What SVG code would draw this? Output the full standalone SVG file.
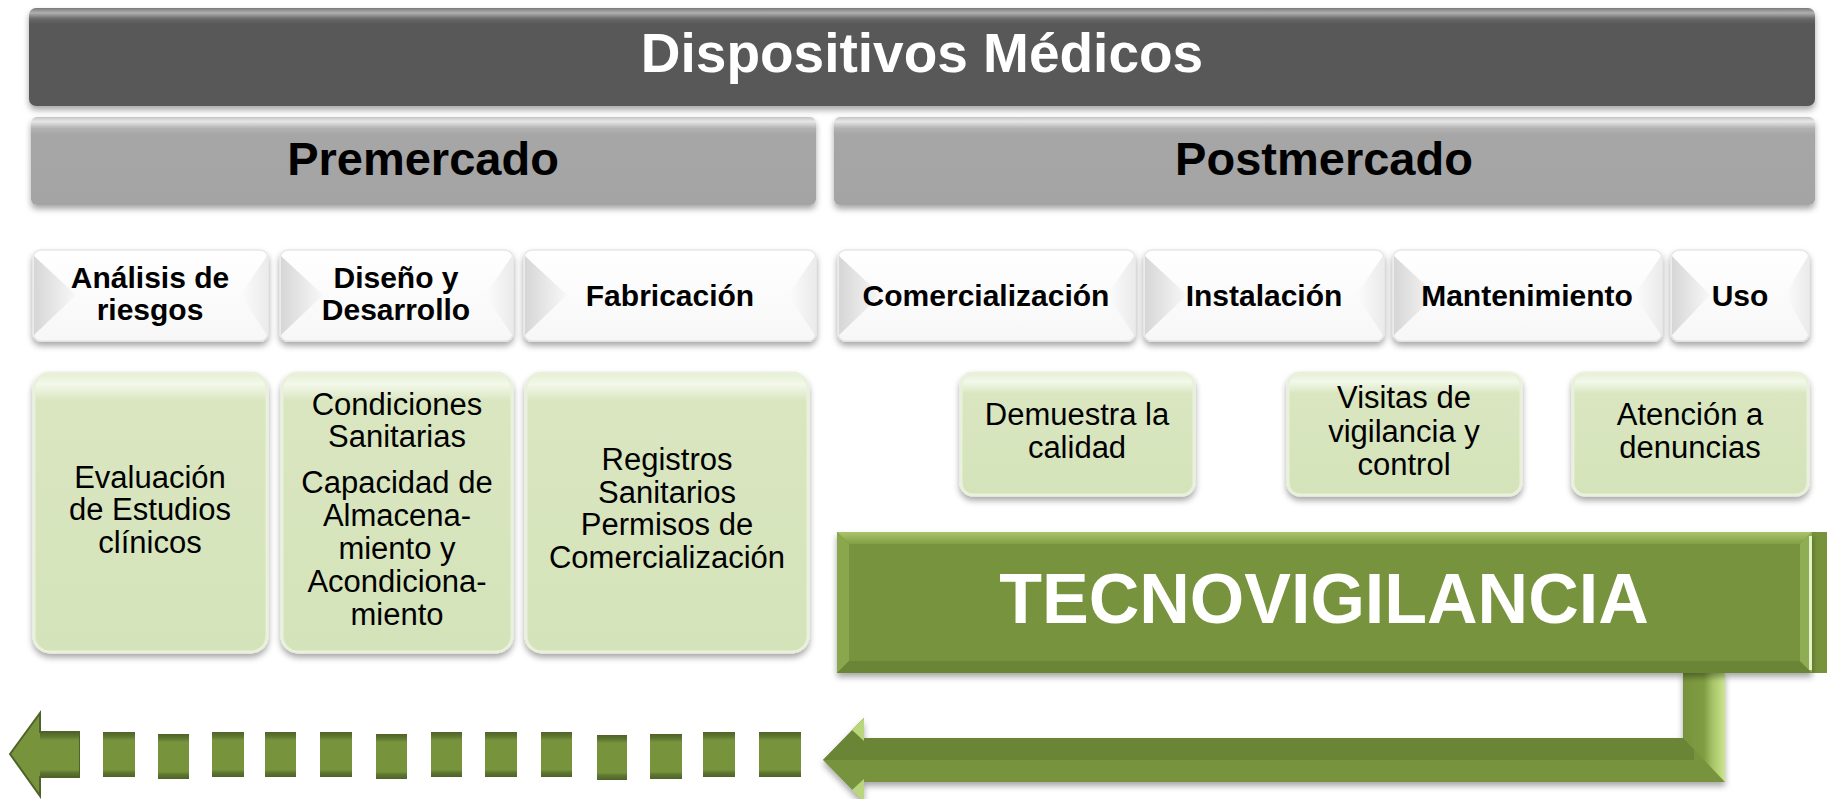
<svg xmlns="http://www.w3.org/2000/svg" width="1827" height="799" viewBox="0 0 1827 799">
<defs>
<filter id="sh" x="-5%" y="-10%" width="110%" height="130%"><feDropShadow dx="0" dy="4" stdDeviation="3" flood-color="#000" flood-opacity="0.35"/></filter>
<linearGradient id="gDark" x1="0" y1="0" x2="0" y2="1"><stop offset="0" stop-color="#7a7a7a"/><stop offset="0.05" stop-color="#b0b0b0"/><stop offset="0.11" stop-color="#6a6a6a"/><stop offset="0.16" stop-color="#595959"/><stop offset="1" stop-color="#585858"/></linearGradient>
<linearGradient id="gGray" x1="0" y1="0" x2="0" y2="1"><stop offset="0" stop-color="#c4c4c4"/><stop offset="0.05" stop-color="#e6e6e6"/><stop offset="0.13" stop-color="#b2b2b2"/><stop offset="0.2" stop-color="#a6a6a6"/><stop offset="1" stop-color="#a4a4a4"/></linearGradient>
<linearGradient id="gHdr" x1="0" y1="0" x2="0" y2="1"><stop offset="0" stop-color="#ffffff"/><stop offset="1" stop-color="#f7f7f7"/></linearGradient>
<linearGradient id="gShadeL" x1="0" y1="0" x2="1" y2="0"><stop offset="0" stop-color="#d6d6d6"/><stop offset="1" stop-color="#f8f8f8"/></linearGradient>
<linearGradient id="gShadeR" x1="1" y1="0" x2="0" y2="0"><stop offset="0" stop-color="#ebebeb"/><stop offset="1" stop-color="#fcfcfc"/></linearGradient>
<linearGradient id="gLG" x1="0" y1="0" x2="0" y2="1"><stop offset="0" stop-color="#e6efd4"/><stop offset="0.04" stop-color="#f3f8ea"/><stop offset="0.1" stop-color="#d9e6c0"/><stop offset="1" stop-color="#d5e3ba"/></linearGradient>
<linearGradient id="gLGs" x1="0" y1="0" x2="0" y2="1"><stop offset="0" stop-color="#e6efd4"/><stop offset="0.07" stop-color="#f3f8ea"/><stop offset="0.17" stop-color="#d9e6c0"/><stop offset="1" stop-color="#d5e3ba"/></linearGradient>
<linearGradient id="gBvTop" x1="0" y1="0" x2="0" y2="1"><stop offset="0" stop-color="#a9c46a"/><stop offset="1" stop-color="#83a046"/></linearGradient>
<linearGradient id="gDash" x1="0" y1="0" x2="0" y2="1"><stop offset="0" stop-color="#4f6228"/><stop offset="0.1" stop-color="#5e7731"/><stop offset="0.18" stop-color="#77933c"/><stop offset="0.84" stop-color="#77933c"/><stop offset="0.9" stop-color="#5e7731"/><stop offset="1" stop-color="#4f6228"/></linearGradient>
<linearGradient id="gVert" x1="0" y1="0" x2="1" y2="0"><stop offset="0" stop-color="#77933c"/><stop offset="0.5" stop-color="#7f9c42"/><stop offset="0.7" stop-color="#a6c366"/><stop offset="1" stop-color="#cbe68d"/></linearGradient>
<style>
.t{font-family:"Liberation Sans",Arial,sans-serif;text-anchor:middle}
.b{font-weight:bold}
.hdr{font-size:30px;font-weight:bold;fill:#000}
.body{font-size:31px;fill:#000}
.lg{fill:url(#gLG);stroke:#e9f1dc;stroke-width:3}
.lgs{fill:url(#gLGs);stroke:#e9f1dc;stroke-width:3}
.hb{fill:url(#gHdr);stroke:#e6e6e6;stroke-width:1.5}
.sl{fill:url(#gShadeL)}
.sr{fill:url(#gShadeR)}
.dash{fill:url(#gDash)}
</style>
</defs>
<rect width="1827" height="799" fill="#ffffff"/>

<g id="dispositivos">
<rect x="29" y="8" width="1786" height="98" rx="7" fill="url(#gDark)" filter="url(#sh)"/>
<text class="t b" x="922" y="72" font-size="55" fill="#ffffff">Dispositivos Médicos</text>
</g>

<g id="premercado">
<rect x="31" y="117" width="785" height="88" rx="6" fill="url(#gGray)" filter="url(#sh)"/>
<text class="t b" x="423" y="175" font-size="47" fill="#000">Premercado</text>
</g>
<g id="postmercado">
<rect x="834" y="117" width="981" height="88" rx="6" fill="url(#gGray)" filter="url(#sh)"/>
<text class="t b" x="1324" y="175" font-size="47" fill="#000">Postmercado</text>
</g>

<g id="analisis">
<rect class="hb" x="33" y="250" width="235" height="91" rx="8" filter="url(#sh)"/>
<polygon class="sl" points="34,256 76,295 34,335"/>
<polygon class="sr" points="267,256 240,295 267,335"/>
<text class="t hdr" x="150" y="288">Análisis de</text>
<text class="t hdr" x="150" y="320">riesgos</text>
</g>
<g id="diseno">
<rect class="hb" x="280" y="250" width="233" height="91" rx="8" filter="url(#sh)"/>
<polygon class="sl" points="281,256 323,295 281,335"/>
<polygon class="sr" points="512,256 485,295 512,335"/>
<text class="t hdr" x="396" y="288">Diseño y</text>
<text class="t hdr" x="396" y="320">Desarrollo</text>
</g>
<g id="fabricacion">
<rect class="hb" x="524" y="250" width="292" height="91" rx="8" filter="url(#sh)"/>
<polygon class="sl" points="525,256 567,295 525,335"/>
<polygon class="sr" points="815,256 788,295 815,335"/>
<text class="t hdr" x="670" y="306">Fabricación</text>
</g>
<g id="comercializacion">
<rect class="hb" x="838" y="250" width="297" height="91" rx="8" filter="url(#sh)"/>
<polygon class="sl" points="839,256 881,295 839,335"/>
<polygon class="sr" points="1134,256 1107,295 1134,335"/>
<text class="t hdr" x="986" y="306">Comercialización</text>
</g>
<g id="instalacion">
<rect class="hb" x="1144" y="250" width="240" height="91" rx="8" filter="url(#sh)"/>
<polygon class="sl" points="1145,256 1187,295 1145,335"/>
<polygon class="sr" points="1383,256 1356,295 1383,335"/>
<text class="t hdr" x="1264" y="306">Instalación</text>
</g>
<g id="mantenimiento">
<rect class="hb" x="1393" y="250" width="269" height="91" rx="8" filter="url(#sh)"/>
<polygon class="sl" points="1394,256 1436,295 1394,335"/>
<polygon class="sr" points="1661,256 1634,295 1661,335"/>
<text class="t hdr" x="1527" y="306">Mantenimiento</text>
</g>
<g id="uso">
<rect class="hb" x="1671" y="250" width="138" height="91" rx="8" filter="url(#sh)"/>
<polygon class="sl" points="1672,256 1710,295 1672,335"/>
<polygon class="sr" points="1808,256 1785,295 1808,335"/>
<text class="t hdr" x="1740" y="306">Uso</text>
</g>

<g id="evaluacion">
<rect class="lg" x="34" y="373" width="233" height="279" rx="16" filter="url(#sh)"/>
<text class="t body" x="150" y="488">Evaluación</text>
<text class="t body" x="150" y="520">de Estudios</text>
<text class="t body" x="150" y="553">clínicos</text>
</g>
<g id="condiciones">
<rect class="lg" x="282" y="373" width="230" height="279" rx="16" filter="url(#sh)"/>
<text class="t body" x="397" y="415">Condiciones</text>
<text class="t body" x="397" y="447">Sanitarias</text>
<text class="t body" x="397" y="493">Capacidad de</text>
<text class="t body" x="397" y="526">Almacena-</text>
<text class="t body" x="397" y="559">miento y</text>
<text class="t body" x="397" y="592">Acondiciona-</text>
<text class="t body" x="397" y="625">miento</text>
</g>
<g id="registros">
<rect class="lg" x="526" y="373" width="282" height="279" rx="16" filter="url(#sh)"/>
<text class="t body" x="667" y="470">Registros</text>
<text class="t body" x="667" y="503">Sanitarios</text>
<text class="t body" x="667" y="535">Permisos de</text>
<text class="t body" x="667" y="568">Comercialización</text>
</g>

<g id="demuestra">
<rect class="lgs" x="961" y="373" width="233" height="122" rx="12" filter="url(#sh)"/>
<text class="t body" x="1077" y="425">Demuestra la</text>
<text class="t body" x="1077" y="458">calidad</text>
</g>
<g id="visitas">
<rect class="lgs" x="1288" y="373" width="233" height="122" rx="12" filter="url(#sh)"/>
<text class="t body" x="1404" y="408">Visitas de</text>
<text class="t body" x="1404" y="442">vigilancia y</text>
<text class="t body" x="1404" y="475">control</text>
</g>
<g id="atencion">
<rect class="lgs" x="1573" y="373" width="235" height="122" rx="12" filter="url(#sh)"/>
<text class="t body" x="1690" y="425">Atención a</text>
<text class="t body" x="1690" y="458">denuncias</text>
</g>

<g id="connectors">
<g id="bent-arrow" filter="url(#sh)">
<path d="M823,760 L864,718 L864,738 L1683,738 L1683,672 L1725,672 L1725,782 L864,782 L864,802 Z" fill="#77933c"/>
<rect x="864" y="738" width="830" height="22" fill="#6b8535"/>
<polygon points="1683,672 1725,672 1725,782 1683,738" fill="url(#gVert)"/>
<polygon points="823,760 864,718 864,760" fill="#6b8535"/>
<polygon points="852,730 864,718 864,741" fill="#b9d67c"/>
<polygon points="852,790 864,802 864,779" fill="#b9d67c"/>
</g>
<g id="dashed-arrow">
<polygon points="10,754 40,713 40,732 79,732 79,777 40,777 40,796" fill="#77933c" stroke="#4f6228" stroke-width="2"/>
<rect class="dash" x="40" y="732" width="39" height="45"/>
<rect class="dash" x="103" y="732" width="32" height="45"/>
<rect class="dash" x="158" y="734" width="31" height="45"/>
<rect class="dash" x="212" y="732" width="32" height="45"/>
<rect class="dash" x="265" y="732" width="31" height="45"/>
<rect class="dash" x="320" y="732" width="32" height="45"/>
<rect class="dash" x="376" y="734" width="31" height="45"/>
<rect class="dash" x="431" y="732" width="31" height="45"/>
<rect class="dash" x="485" y="732" width="32" height="45"/>
<rect class="dash" x="541" y="732" width="31" height="45"/>
<rect class="dash" x="597" y="735" width="30" height="45"/>
<rect class="dash" x="650" y="734" width="32" height="45"/>
<rect class="dash" x="703" y="732" width="32" height="45"/>
<rect class="dash" x="759" y="732" width="42" height="45"/>
</g>
</g>

<g id="tecnovigilancia">
<rect x="1812" y="532" width="15" height="141" fill="#77933c"/>
<rect x="837" y="532" width="975" height="141" fill="#77933c" filter="url(#sh)"/>
<polygon points="837,532 1812,532 1800,544 849,544" fill="url(#gBvTop)"/>
<polygon points="837,532 849,544 849,661 837,673" fill="#8aa74d"/>
<polygon points="837,673 849,661 1800,661 1812,673" fill="#6a8535"/>
<polygon points="1812,532 1800,544 1800,661 1812,673" fill="#8fad52"/>
<rect x="1809" y="536" width="3" height="134" fill="#e4f2c8"/>
<text class="t b" x="1324" y="623" font-size="70" fill="#ffffff">TECNOVIGILANCIA</text>
</g>
</svg>
